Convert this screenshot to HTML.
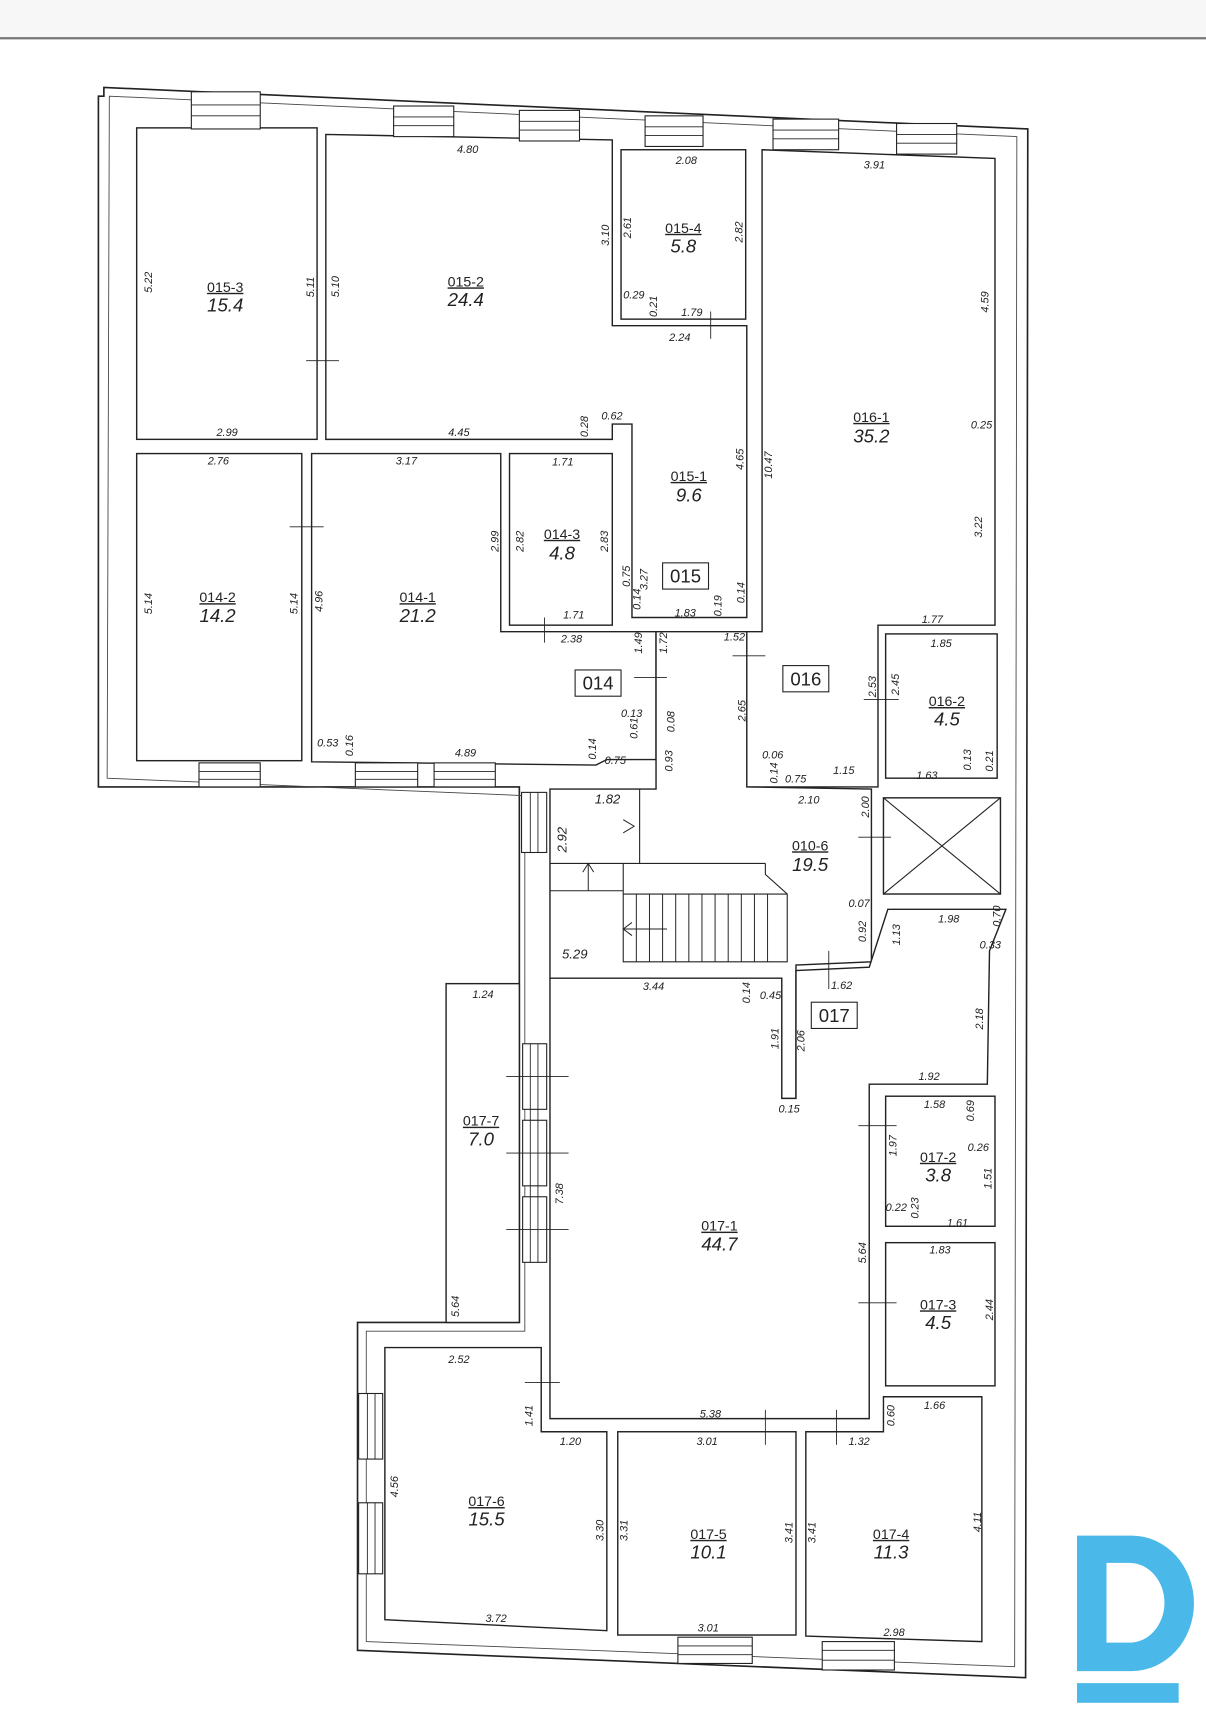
<!DOCTYPE html>
<html><head><meta charset="utf-8"><style>
html,body{margin:0;padding:0;background:#fff;}
svg{display:block;}
text{font-family:"Liberation Sans",sans-serif;fill:#222;}
.d{font-size:10px;font-style:italic;}
.n{font-size:13px;text-decoration:underline;text-anchor:middle;}
.a{font-size:17px;font-style:italic;text-anchor:middle;}
.b{font-size:17px;text-anchor:middle;}
.r{fill:#fff;stroke:#222;stroke-width:1.3;}
.w{fill:#fff;stroke:#222;stroke-width:1;}
</style></head><body>
<svg width="1206" height="1717" viewBox="0 0 1103 1571" preserveAspectRatio="none" xmlns="http://www.w3.org/2000/svg">
<rect x="0" y="0" width="1103" height="35" fill="#f7f7f7"/>
<line x1="0" y1="35" x2="1103" y2="35" stroke="#777" stroke-width="2"/>
<!-- outer walls -->
<polygon points="95,80 940,118 938,1535 327,1510 327,1210 475,1210 475,720 90,720 90,88 95,88" fill="#fff" stroke="#222" stroke-width="1.5"/>
<polygon points="100,88 930,125 928,1525 335,1502 335,1218 480,1218 480,728 98,712" fill="none" stroke="#444" stroke-width="0.8"/>
<!-- rooms -->
<rect class="r" x="125" y="117" width="165" height="285"/>
<polygon class="r" points="298,123 560,128 560,298 683,298 683,565 578,565 578,388 560,388 560,402 298,402"/>
<rect class="r" x="568" y="137" width="114" height="155"/>
<polygon class="r" points="697,137 910,145 910,572 803,572 803,720 683,720 683,578 697,578"/>
<rect class="r" x="810" y="580" width="102" height="132"/>
<rect class="r" x="125" y="415" width="151" height="281"/>
<polygon class="r" points="285,415 458,415 458,578 600,578 600,695 555,695 545,700 285,697"/>
<rect class="r" x="466" y="415" width="94" height="157"/>
<polygon class="r" points="600,578 683,578 683,720 797,722 797,880 728,883 728,1005 715,1005 715,895 503,895 503,722 600,722"/>
<rect class="r" x="808" y="730" width="107" height="88"/>
<line x1="808" y1="730" x2="915" y2="818" stroke="#222"/><line x1="915" y1="730" x2="808" y2="818" stroke="#222"/>
<polygon class="r" points="503,895 715,895 715,1005 728,1005 728,888 795,885 812,832 920,832 905,870 903,992 795,992 795,1298 503,1298"/>
<rect class="r" x="810" y="1003" width="100" height="119"/>
<rect class="r" x="810" y="1137" width="100" height="131"/>
<rect class="r" x="408" y="900" width="67" height="310"/>
<polygon class="r" points="352,1233 495,1233 495,1310 555,1310 555,1492 352,1482"/>
<rect class="r" x="565" y="1310" width="163" height="186"/>
<polygon class="r" points="737,1310 808,1310 808,1278 898,1278 898,1502 737,1497"/>
<!-- stairs -->
<line x1="503" y1="790" x2="700" y2="790" stroke="#222"/>
<line x1="503" y1="815" x2="570" y2="815" stroke="#222"/>
<polyline points="570,790 570,880 720,880 720,818 700,800 700,790" fill="none" stroke="#222"/>
<line x1="570" y1="818" x2="720" y2="818" stroke="#222"/>
<line x1="585" y1="722" x2="585" y2="790" stroke="#222"/>
<g stroke="#222" stroke-width="0.9">
<line x1="582" y1="818" x2="582" y2="880"/><line x1="594" y1="818" x2="594" y2="880"/><line x1="606" y1="818" x2="606" y2="880"/><line x1="618" y1="818" x2="618" y2="880"/><line x1="630" y1="818" x2="630" y2="880"/><line x1="642" y1="818" x2="642" y2="880"/><line x1="654" y1="818" x2="654" y2="880"/><line x1="666" y1="818" x2="666" y2="880"/><line x1="678" y1="818" x2="678" y2="880"/><line x1="690" y1="818" x2="690" y2="880"/><line x1="702" y1="818" x2="702" y2="880"/>
<line x1="570" y1="850" x2="610" y2="850"/><polyline points="578,844 570,850 578,856" fill="none"/>
<line x1="538" y1="790" x2="538" y2="815"/><polyline points="533,798 538,790 543,798" fill="none"/>
<polyline points="570,750 580,756 570,762" fill="none"/>
</g>
<!-- windows -->
<g fill="#fff" stroke="#222" stroke-width="1">
<rect x="175" y="84" width="63" height="34"/><rect x="360" y="97" width="55" height="28"/><rect x="475" y="101" width="55" height="28"/><rect x="590" y="106" width="53" height="28"/><rect x="707" y="109" width="60" height="28"/><rect x="820" y="113" width="55" height="28"/>
<rect x="182" y="698" width="56" height="22"/><rect x="325" y="698" width="57" height="22"/><rect x="397" y="698" width="56" height="22"/>
<rect x="477" y="725" width="23" height="55"/><rect x="478" y="955" width="22" height="60"/><rect x="478" y="1025" width="22" height="60"/><rect x="478" y="1095" width="22" height="60"/>
<rect x="328" y="1275" width="22" height="60"/><rect x="328" y="1375" width="22" height="65"/>
<rect x="620" y="1498" width="68" height="24"/><rect x="752" y="1502" width="66" height="26"/>
</g>
<g stroke="#222" stroke-width="0.8">
<line x1="175" y1="96" x2="238" y2="96"/><line x1="175" y1="106" x2="238" y2="106"/>
<line x1="360" y1="107" x2="415" y2="107"/><line x1="360" y1="115" x2="415" y2="115"/>
<line x1="475" y1="111" x2="530" y2="111"/><line x1="475" y1="119" x2="530" y2="119"/>
<line x1="590" y1="116" x2="643" y2="116"/><line x1="590" y1="124" x2="643" y2="124"/>
<line x1="707" y1="119" x2="767" y2="119"/><line x1="707" y1="127" x2="767" y2="127"/>
<line x1="820" y1="123" x2="875" y2="123"/><line x1="820" y1="131" x2="875" y2="131"/>
<line x1="182" y1="706" x2="238" y2="706"/><line x1="182" y1="713" x2="238" y2="713"/>
<line x1="325" y1="706" x2="382" y2="706"/><line x1="325" y1="713" x2="382" y2="713"/>
<line x1="397" y1="706" x2="453" y2="706"/><line x1="397" y1="713" x2="453" y2="713"/>
<line x1="485" y1="725" x2="485" y2="780"/><line x1="492" y1="725" x2="492" y2="780"/>
<line x1="485" y1="955" x2="485" y2="1155"/><line x1="492" y1="955" x2="492" y2="1155"/>
<line x1="336" y1="1275" x2="336" y2="1335"/><line x1="343" y1="1275" x2="343" y2="1335"/>
<line x1="336" y1="1375" x2="336" y2="1440"/><line x1="343" y1="1375" x2="343" y2="1440"/>
<line x1="620" y1="1506" x2="688" y2="1506"/><line x1="620" y1="1514" x2="688" y2="1514"/>
<line x1="752" y1="1510" x2="818" y2="1510"/><line x1="752" y1="1519" x2="818" y2="1519"/>
<!-- doors -->
<line x1="280" y1="330" x2="310" y2="330"/><line x1="265" y1="482" x2="296" y2="482"/>
<line x1="650" y1="285" x2="650" y2="310"/><line x1="498" y1="565" x2="498" y2="588"/>
<line x1="580" y1="620" x2="610" y2="620"/><line x1="670" y1="600" x2="700" y2="600"/><line x1="790" y1="640" x2="822" y2="640"/>
<line x1="785" y1="766" x2="815" y2="766"/><line x1="758" y1="870" x2="758" y2="905"/>
<line x1="463" y1="985" x2="520" y2="985"/><line x1="463" y1="1055" x2="520" y2="1055"/><line x1="463" y1="1125" x2="520" y2="1125"/>
<line x1="785" y1="1030" x2="820" y2="1030"/><line x1="785" y1="1192" x2="820" y2="1192"/><line x1="480" y1="1265" x2="512" y2="1265"/>
<line x1="700" y1="1290" x2="700" y2="1322"/><line x1="765" y1="1290" x2="765" y2="1322"/>
</g>
<!-- room labels -->
<text class="n" x="206" y="267">015-3</text><text class="a" x="206" y="285">15.4</text>
<text class="n" x="426" y="262">015-2</text><text class="a" x="426" y="280">24.4</text>
<text class="n" x="625" y="213">015-4</text><text class="a" x="625" y="231">5.8</text>
<text class="n" x="797" y="386">016-1</text><text class="a" x="797" y="405">35.2</text>
<text class="n" x="630" y="440">015-1</text><text class="a" x="630" y="459">9.6</text>
<text class="n" x="514" y="493">014-3</text><text class="a" x="514" y="512">4.8</text>
<text class="n" x="199" y="551">014-2</text><text class="a" x="199" y="569">14.2</text>
<text class="n" x="382" y="551">014-1</text><text class="a" x="382" y="569">21.2</text>
<text class="n" x="866" y="646">016-2</text><text class="a" x="866" y="664">4.5</text>
<text class="n" x="741" y="778">010-6</text><text class="a" x="741" y="797">19.5</text>
<text class="n" x="440" y="1030">017-7</text><text class="a" x="440" y="1048">7.0</text>
<text class="n" x="658" y="1126">017-1</text><text class="a" x="658" y="1144">44.7</text>
<text class="n" x="858" y="1063">017-2</text><text class="a" x="858" y="1081">3.8</text>
<text class="n" x="858" y="1198">017-3</text><text class="a" x="858" y="1216">4.5</text>
<text class="n" x="445" y="1378">017-6</text><text class="a" x="445" y="1396">15.5</text>
<text class="n" x="648" y="1408">017-5</text><text class="a" x="648" y="1426">10.1</text>
<text class="n" x="815" y="1408">017-4</text><text class="a" x="815" y="1426">11.3</text>
<!-- zone labels -->
<g fill="#fff" stroke="#222"><rect x="606" y="515" width="42" height="24"/><rect x="526" y="613" width="42" height="24"/><rect x="716" y="609" width="42" height="24"/><rect x="742" y="917" width="42" height="24"/></g>
<text class="b" x="627" y="533">015</text><text class="b" x="547" y="631">014</text><text class="b" x="737" y="627">016</text><text class="b" x="763" y="935">017</text>
<!-- dims -->
<g class="d">
<text x="418" y="140">4.80</text><text x="618" y="150">2.08</text><text x="790" y="154">3.91</text>
<text x="198" y="399">2.99</text><text x="410" y="399">4.45</text><text x="550" y="384">0.62</text>
<text x="190" y="425">2.76</text><text x="362" y="425">3.17</text><text x="505" y="426">1.71</text>
<text x="623" y="289">1.79</text><text x="612" y="312">2.24</text><text x="570" y="273">0.29</text>
<text x="515" y="566">1.71</text><text x="513" y="588">2.38</text><text x="617" y="564">1.83</text><text x="662" y="586">1.52</text>
<text x="843" y="570">1.77</text><text x="851" y="592">1.85</text><text x="888" y="392">0.25</text>
<text x="290" y="683">0.53</text><text x="416" y="692">4.89</text><text x="553" y="699">0.75</text><text x="568" y="656">0.13</text>
<text x="718" y="716">0.75</text><text x="762" y="708">1.15</text><text x="730" y="735">2.10</text><text x="697" y="694">0.06</text>
<text x="838" y="713">1.63</text>
<text x="544" y="735" style="font-size:12px">1.82</text><text x="514" y="877" style="font-size:12px">5.29</text>
<text x="776" y="830">0.07</text><text x="588" y="906">3.44</text><text x="695" y="914">0.45</text><text x="760" y="905">1.62</text>
<text x="858" y="844">1.98</text><text x="896" y="868">0.33</text><text x="840" y="988">1.92</text><text x="845" y="1014">1.58</text><text x="885" y="1053">0.26</text>
<text x="810" y="1108">0.22</text><text x="866" y="1122">1.61</text><text x="850" y="1147">1.83</text>
<text x="712" y="1018">0.15</text><text x="432" y="913">1.24</text>
<text x="410" y="1247">2.52</text><text x="512" y="1322">1.20</text><text x="640" y="1297">5.38</text><text x="637" y="1322">3.01</text><text x="776" y="1322">1.32</text><text x="845" y="1289">1.66</text>
<text x="444" y="1484">3.72</text><text x="638" y="1493">3.01</text><text x="808" y="1497">2.98</text>
</g>
<g class="d">
<text transform="translate(139,268) rotate(-90)">5.22</text><text transform="translate(287,272) rotate(-90)">5.11</text><text transform="translate(310,272) rotate(-90)">5.10</text>
<text transform="translate(557,225) rotate(-90)">3.10</text><text transform="translate(577,218) rotate(-90)">2.61</text><text transform="translate(679,222) rotate(-90)">2.82</text>
<text transform="translate(601,290) rotate(-90)">0.21</text><text transform="translate(904,286) rotate(-90)">4.59</text><text transform="translate(680,430) rotate(-90)">4.65</text>
<text transform="translate(706,438) rotate(-90)">10.47</text><text transform="translate(538,400) rotate(-90)">0.28</text><text transform="translate(898,492) rotate(-90)">3.22</text>
<text transform="translate(139,562) rotate(-90)">5.14</text><text transform="translate(272,562) rotate(-90)">5.14</text><text transform="translate(295,560) rotate(-90)">4.96</text>
<text transform="translate(456,505) rotate(-90)">2.99</text><text transform="translate(479,505) rotate(-90)">2.82</text><text transform="translate(556,505) rotate(-90)">2.83</text>
<text transform="translate(592,540) rotate(-90)">3.27</text><text transform="translate(576,537) rotate(-90)">0.75</text><text transform="translate(586,558) rotate(-90)">0.14</text>
<text transform="translate(660,564) rotate(-90)">0.19</text><text transform="translate(681,552) rotate(-90)">0.14</text>
<text transform="translate(587,598) rotate(-90)">1.49</text><text transform="translate(610,598) rotate(-90)">1.72</text><text transform="translate(583,676) rotate(-90)">0.61</text>
<text transform="translate(617,670) rotate(-90)">0.08</text><text transform="translate(615,706) rotate(-90)">0.93</text><text transform="translate(545,695) rotate(-90)">0.14</text>
<text transform="translate(323,692) rotate(-90)">0.16</text><text transform="translate(682,660) rotate(-90)">2.65</text><text transform="translate(801,638) rotate(-90)">2.53</text>
<text transform="translate(822,636) rotate(-90)">2.45</text><text transform="translate(888,705) rotate(-90)">0.13</text><text transform="translate(908,706) rotate(-90)">0.21</text>
<text transform="translate(711,717) rotate(-90)">0.14</text><text transform="translate(795,748) rotate(-90)">2.00</text><text transform="translate(518,780) rotate(-90)" style="font-size:12px">2.92</text>
<text transform="translate(792,862) rotate(-90)">0.92</text><text transform="translate(823,865) rotate(-90)">1.13</text><text transform="translate(915,848) rotate(-90)">0.70</text>
<text transform="translate(899,942) rotate(-90)">2.18</text><text transform="translate(686,918) rotate(-90)">0.14</text><text transform="translate(712,960) rotate(-90)">1.91</text>
<text transform="translate(736,962) rotate(-90)">2.06</text><text transform="translate(891,1026) rotate(-90)">0.69</text><text transform="translate(820,1058) rotate(-90)">1.97</text>
<text transform="translate(907,1088) rotate(-90)">1.51</text><text transform="translate(840,1115) rotate(-90)">0.23</text><text transform="translate(515,1102) rotate(-90)">7.38</text>
<text transform="translate(792,1156) rotate(-90)">5.64</text><text transform="translate(908,1208) rotate(-90)">2.44</text><text transform="translate(420,1205) rotate(-90)">5.64</text>
<text transform="translate(487,1305) rotate(-90)">1.41</text><text transform="translate(818,1305) rotate(-90)">0.60</text><text transform="translate(364,1370) rotate(-90)">4.56</text>
<text transform="translate(552,1410) rotate(-90)">3.30</text><text transform="translate(574,1410) rotate(-90)">3.31</text><text transform="translate(725,1412) rotate(-90)">3.41</text>
<text transform="translate(746,1412) rotate(-90)">3.41</text><text transform="translate(897,1402) rotate(-90)">4.11</text>
</g>
<!-- logo -->
<path d="M985,1405 H1035 A57,62 0 0 1 1035,1529 H985 Z M1012,1430 V1503 H1033 A32,36.5 0 0 0 1033,1430 Z" fill="#4ab8e8" fill-rule="evenodd"/>
<rect x="985" y="1540" width="93" height="18" fill="#4ab8e8"/>
</svg>
</body></html>
